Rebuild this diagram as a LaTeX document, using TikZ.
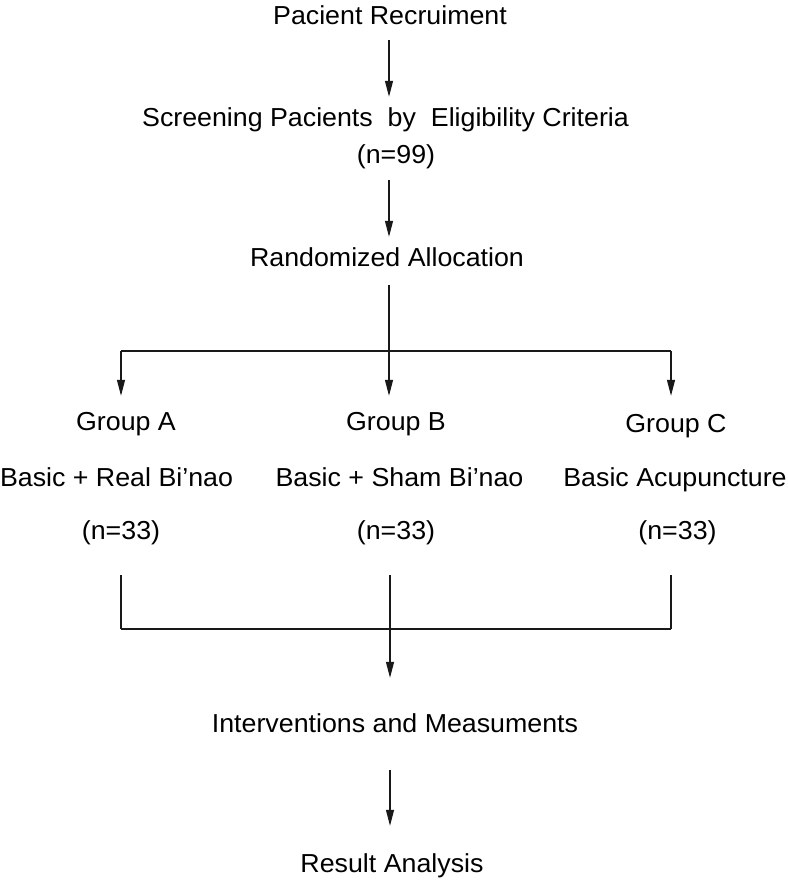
\documentclass[tikz,border=0pt]{standalone}
\usepackage{fontspec}
\setmainfont{Liberation Sans}[FakeStretch=1.03]
\usetikzlibrary{arrows.meta}
\begin{document}
\begin{tikzpicture}[x=1pt,y=-1pt,
  lbl/.style={anchor=base, inner sep=0pt, font=\fontsize{26}{30}\selectfont, text height=19pt, text depth=6pt},
  conn/.style={line width=1.3pt, black!90},
  arr/.style={conn, -{Triangle[length=16pt,width=8pt]}}]
\useasboundingbox[fill=white] (0,0) rectangle (787,880);
% text nodes
\node[lbl] (pr) at (390,25) {Pacient Recruiment};
\node[lbl] (scr) at (385.5,127) {Screening Pacients\ \ by\ \ Eligibility Criteria};
\node[lbl] (n99) at (396,163) {(n=99)};
\node[lbl] (rand) at (387,266) {Randomized Allocation};
\node[lbl] (gA) at (126,430) {Group A};
\node[lbl] (gB) at (396,430) {Group B};
\node[lbl] (gC) at (676,432) {Group C};
\node[lbl] (bA) at (116.5,486) {Basic + Real Bi’nao};
\node[lbl] (bB) at (399.5,486) {Basic + Sham Bi’nao};
\node[lbl] (bC) at (675,486) {Basic Acupuncture};
\node[lbl] (nA) at (121,539) {(n=33)};
\node[lbl] (nB) at (396,539) {(n=33)};
\node[lbl] (nC) at (677.5,539) {(n=33)};
\node[lbl] (intv) at (395,732) {Interventions and Measuments};
\node[lbl] (res) at (392,872) {Result Analysis};
% helper coordinates
\coordinate (sp) at (389,0);
\coordinate (sq) at (390,0);
\coordinate (brA) at (121,351);
\coordinate (brC) at (671,351);
\coordinate (mA) at (121,629);
\coordinate (mC) at (671,629);
% connectors
\draw[arr, shorten <=9pt, shorten >=11pt] (pr.south -| sp) -- (scr.north -| sp);
\draw[arr, shorten <=11pt, shorten >=10pt] (n99.south -| sp) -- (rand.north -| sp);
\draw[arr, shorten <=13pt, shorten >=15pt] (rand.south -| sp) -- (gB.north -| sp);
\draw[conn] (brA) -- (brC);
\draw[arr, shorten >=15pt] (brA) -- (gA.north -| brA);
\draw[arr, shorten >=17pt] (brC) -- (gC.north -| brC);
\draw[conn, shorten <=30pt] (nA.south -| mA) -- (mA);
\draw[conn, shorten <=30pt] (nC.south -| mC) -- (mC);
\draw[conn] (mA) -- (mC);
\draw[arr, shorten <=30pt, shorten >=35pt] (nB.south -| sq) -- (intv.north -| sq);
\draw[arr, shorten <=32pt, shorten >=27pt] (intv.south -| sq) -- (res.north -| sq);
\end{tikzpicture}
\end{document}
